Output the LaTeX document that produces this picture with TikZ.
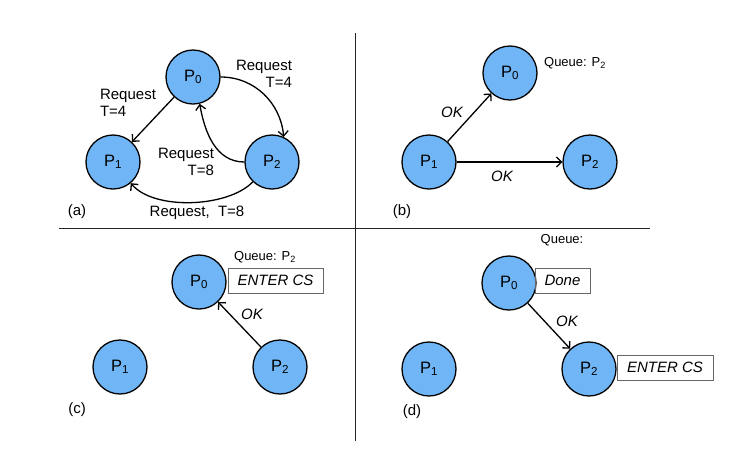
\documentclass[tikz,border=0pt]{standalone}
\usepackage{fontspec}
\setmainfont{Liberation Sans}
\usetikzlibrary{arrows.meta}
\definecolor{procblue}{RGB}{112,182,246}
\begin{document}
\begin{tikzpicture}[x=1pt,y=1pt,
  font=\fontsize{15}{17}\selectfont,
  proc/.style={circle,draw=black,fill=procblue,line width=1.3pt,minimum size=54pt,inner sep=0pt,font=\fontsize{16.5}{18}\selectfont},
  msg/.style={draw=black,line width=1.3pt,-{Straight Barb[length=5pt,width=10pt,line width=1.3pt]}},
  lbl/.style={inner sep=0pt,align=left},
  qlbl/.style={inner sep=0pt,font=\fontsize{13}{15}\selectfont},
  csbox/.style={draw=black!60,line width=0.9pt,minimum height=25pt,inner sep=0pt,font=\fontsize{15}{17}\selectfont\itshape},
  okl/.style={inner sep=0pt,font=\fontsize{15}{17}\selectfont\itshape},
  divider/.style={draw=black!85,line width=1pt}]
\useasboundingbox (0,0) rectangle (732,-451);
% dividers
\coordinate (vt) at (355,-33);
\coordinate (vb) at (355,-441);
\coordinate (hl) at (59,-228);
\coordinate (hr) at (650,-228);
\draw[divider] (vt) -- (vb);
\draw[divider] (hl) -- (hr);
% panel (a)
\node[proc] (a0) at (193,-77) {P\textsubscript{0}};
\node[proc] (a1) at (113,-162) {P\textsubscript{1}};
\node[proc] (a2) at (272,-162) {P\textsubscript{2}};
\draw[msg] (a0) -- (a1);
\draw[msg] (a0.east) to[out=0,in=95] (a2.65);
\draw[msg] (a2.west) to[out=180,in=-80] (a0.-76);
\draw[msg] (a2.-134) to[out=-134,in=-50,looseness=0.75] (a1.-50);
\node[lbl] (ta1) at (128,-103) {Request\\T=4};
\node[lbl,align=right] (ta2) at (264,-74) {Request\\T=4};
\node[lbl,align=right] (ta3) at (186,-162) {Request\\T=8};
\node[lbl] (ta4) at (197,-213) {Request,\ \ T=8};
\node[lbl] (la) at (77,-212) {(a)};
% panel (b)
\node[proc] (b0) at (510,-73) {P\textsubscript{0}};
\node[proc] (b1) at (429,-162) {P\textsubscript{1}};
\node[proc] (b2) at (590,-162) {P\textsubscript{2}};
\draw[msg] (b1) -- (b0);
\draw[msg] (b1) -- (b2);
\node[qlbl] (qb) at (575,-63) {Queue: P\textsubscript{2}};
\node[okl] (okb1) at (452,-112) {OK};
\node[okl] (okb2) at (502,-176) {OK};
\node[lbl] (lb) at (402,-212) {(b)};
% panel (c)
\node[proc] (c0) at (199,-282) {P\textsubscript{0}};
\node[proc] (c1) at (120,-367) {P\textsubscript{1}};
\node[proc] (c2) at (280,-367) {P\textsubscript{2}};
\draw[msg] (c2) -- (c0);
\node[qlbl] (qc) at (265,-257) {Queue: P\textsubscript{2}};
\node[csbox,minimum width=95pt] (csc) at (275.5,-280.5) {ENTER CS};
\node[okl] (okc) at (252,-314) {OK};
\node[lbl] (lc) at (77,-410) {(c)};
% panel (d)
\node[proc] (d0) at (509,-283) {P\textsubscript{0}};
\node[proc] (d1) at (429,-369) {P\textsubscript{1}};
\node[proc] (d2) at (589,-369) {P\textsubscript{2}};
\draw[msg] (d0) -- (d2);
\node[qlbl] (qd) at (562,-240) {Queue:};
\node[csbox,minimum width=55pt] (dn) at (562.5,-280.5) {Done};
\node[csbox,minimum width=96pt] (csd) at (665,-367.5) {ENTER CS};
\node[okl] (okd) at (567,-321) {OK};
\node[lbl] (ld) at (412,-412) {(d)};
\end{tikzpicture}
\end{document}
